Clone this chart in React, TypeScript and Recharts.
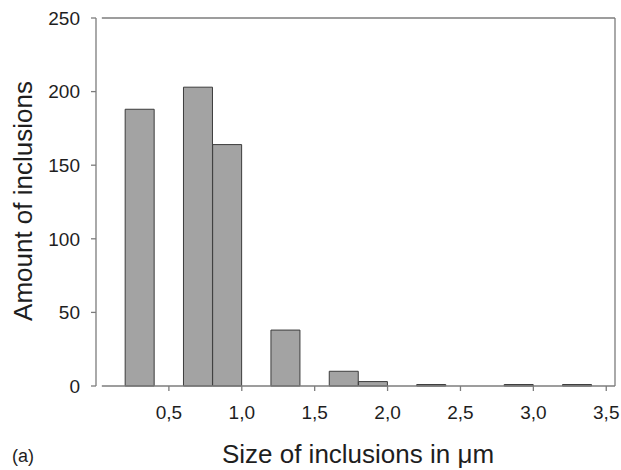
import { BarChart, Bar, XAxis, YAxis, ReferenceLine } from "recharts"

// histogram bins, 0.2 µm wide, given by centre
const BIN_CENTERS = [0.1, 0.3, 0.5, 0.7, 0.9, 1.1, 1.3, 1.5, 1.7, 1.9, 2.1, 2.3, 2.5, 2.7, 2.9, 3.1, 3.3]
const COUNTS = [0, 188, 0, 203, 164, 0, 38, 0, 10, 3, 0, 1, 0, 0, 1, 0, 1]

const X_TICKS = [0.5, 1.0, 1.5, 2.0, 2.5, 3.0, 3.5]
const Y_TICKS = [0, 50, 100, 150, 200, 250]
const X_DOMAIN = [0, 3.56]
const Y_DOMAIN = [0, 250]
const FRAME_START = 0.04

const data = BIN_CENTERS.map((x, i) => ({ x, count: COUNTS[i] }))

const FONT = "'Liberation Sans', Arial, sans-serif"
const AXIS_COLOR = "#7c7c7c"
const TEXT_COLOR = "#1e1e1e"

export default function App() {
  return (
    <div style={{ position: "absolute", left: 0, top: 0, width: 621, height: 470, background: "#fff", fontFamily: FONT }}>
      <BarChart
        width={621}
        height={470}
        data={data}
        margin={{ top: 18, right: 6, left: 0, bottom: 44 }}
        barCategoryGap={0}
        barGap={0}
      >
        <XAxis
          dataKey="x"
          type="number"
          domain={X_DOMAIN}
          ticks={X_TICKS}
          allowDataOverflow
          height={40}
          axisLine={false}
          tickSize={5}
          tickMargin={15}
          tickLine={{ stroke: AXIS_COLOR, strokeWidth: 1.3 }}
          tickFormatter={(v: number) => v.toFixed(1).replace(".", ",")}
          tick={{ fontSize: 19, fill: TEXT_COLOR, fontFamily: FONT }}
        />
        <YAxis
          type="number"
          domain={Y_DOMAIN}
          ticks={Y_TICKS}
          width={96}
          axisLine={{ stroke: AXIS_COLOR, strokeWidth: 1.3 }}
          tickSize={5}
          tickMargin={11}
          tickLine={{ stroke: AXIS_COLOR, strokeWidth: 1.3 }}
          tick={{ fontSize: 19, fill: TEXT_COLOR, fontFamily: FONT }}
        />
        {/* frame: bottom, top and right, set off from the y axis */}
        <ReferenceLine
          segment={[{ x: FRAME_START, y: Y_DOMAIN[0] }, { x: X_DOMAIN[1], y: Y_DOMAIN[0] }]}
          stroke={AXIS_COLOR}
          strokeWidth={1.3}
        />
        <ReferenceLine
          segment={[{ x: FRAME_START, y: Y_DOMAIN[1] }, { x: X_DOMAIN[1], y: Y_DOMAIN[1] }]}
          stroke={AXIS_COLOR}
          strokeWidth={1.3}
        />
        <ReferenceLine
          segment={[{ x: X_DOMAIN[1], y: Y_DOMAIN[0] }, { x: X_DOMAIN[1], y: Y_DOMAIN[1] }]}
          stroke={AXIS_COLOR}
          strokeWidth={1.3}
        />
        <Bar dataKey="count" fill="#a3a3a3" stroke="#3c3c3c" strokeWidth={1} isAnimationActive={false} />
      </BarChart>

      {/* axis titles */}
      <div
        style={{
          position: "absolute",
          left: 23,
          top: 201,
          transform: "translate(-50%, -50%) rotate(-90deg)",
          whiteSpace: "nowrap",
          fontSize: 26,
          color: TEXT_COLOR,
        }}
      >
        Amount of inclusions
      </div>
      <div
        style={{
          position: "absolute",
          left: 358,
          top: 454,
          transform: "translate(-50%, -50%)",
          whiteSpace: "nowrap",
          fontSize: 26,
          color: TEXT_COLOR,
        }}
      >
        Size of inclusions in μm
      </div>
      <div
        style={{
          position: "absolute",
          left: 12,
          top: 456,
          transform: "translateY(-50%)",
          fontSize: 18,
          color: TEXT_COLOR,
        }}
      >
        (a)
      </div>
    </div>
  )
}
